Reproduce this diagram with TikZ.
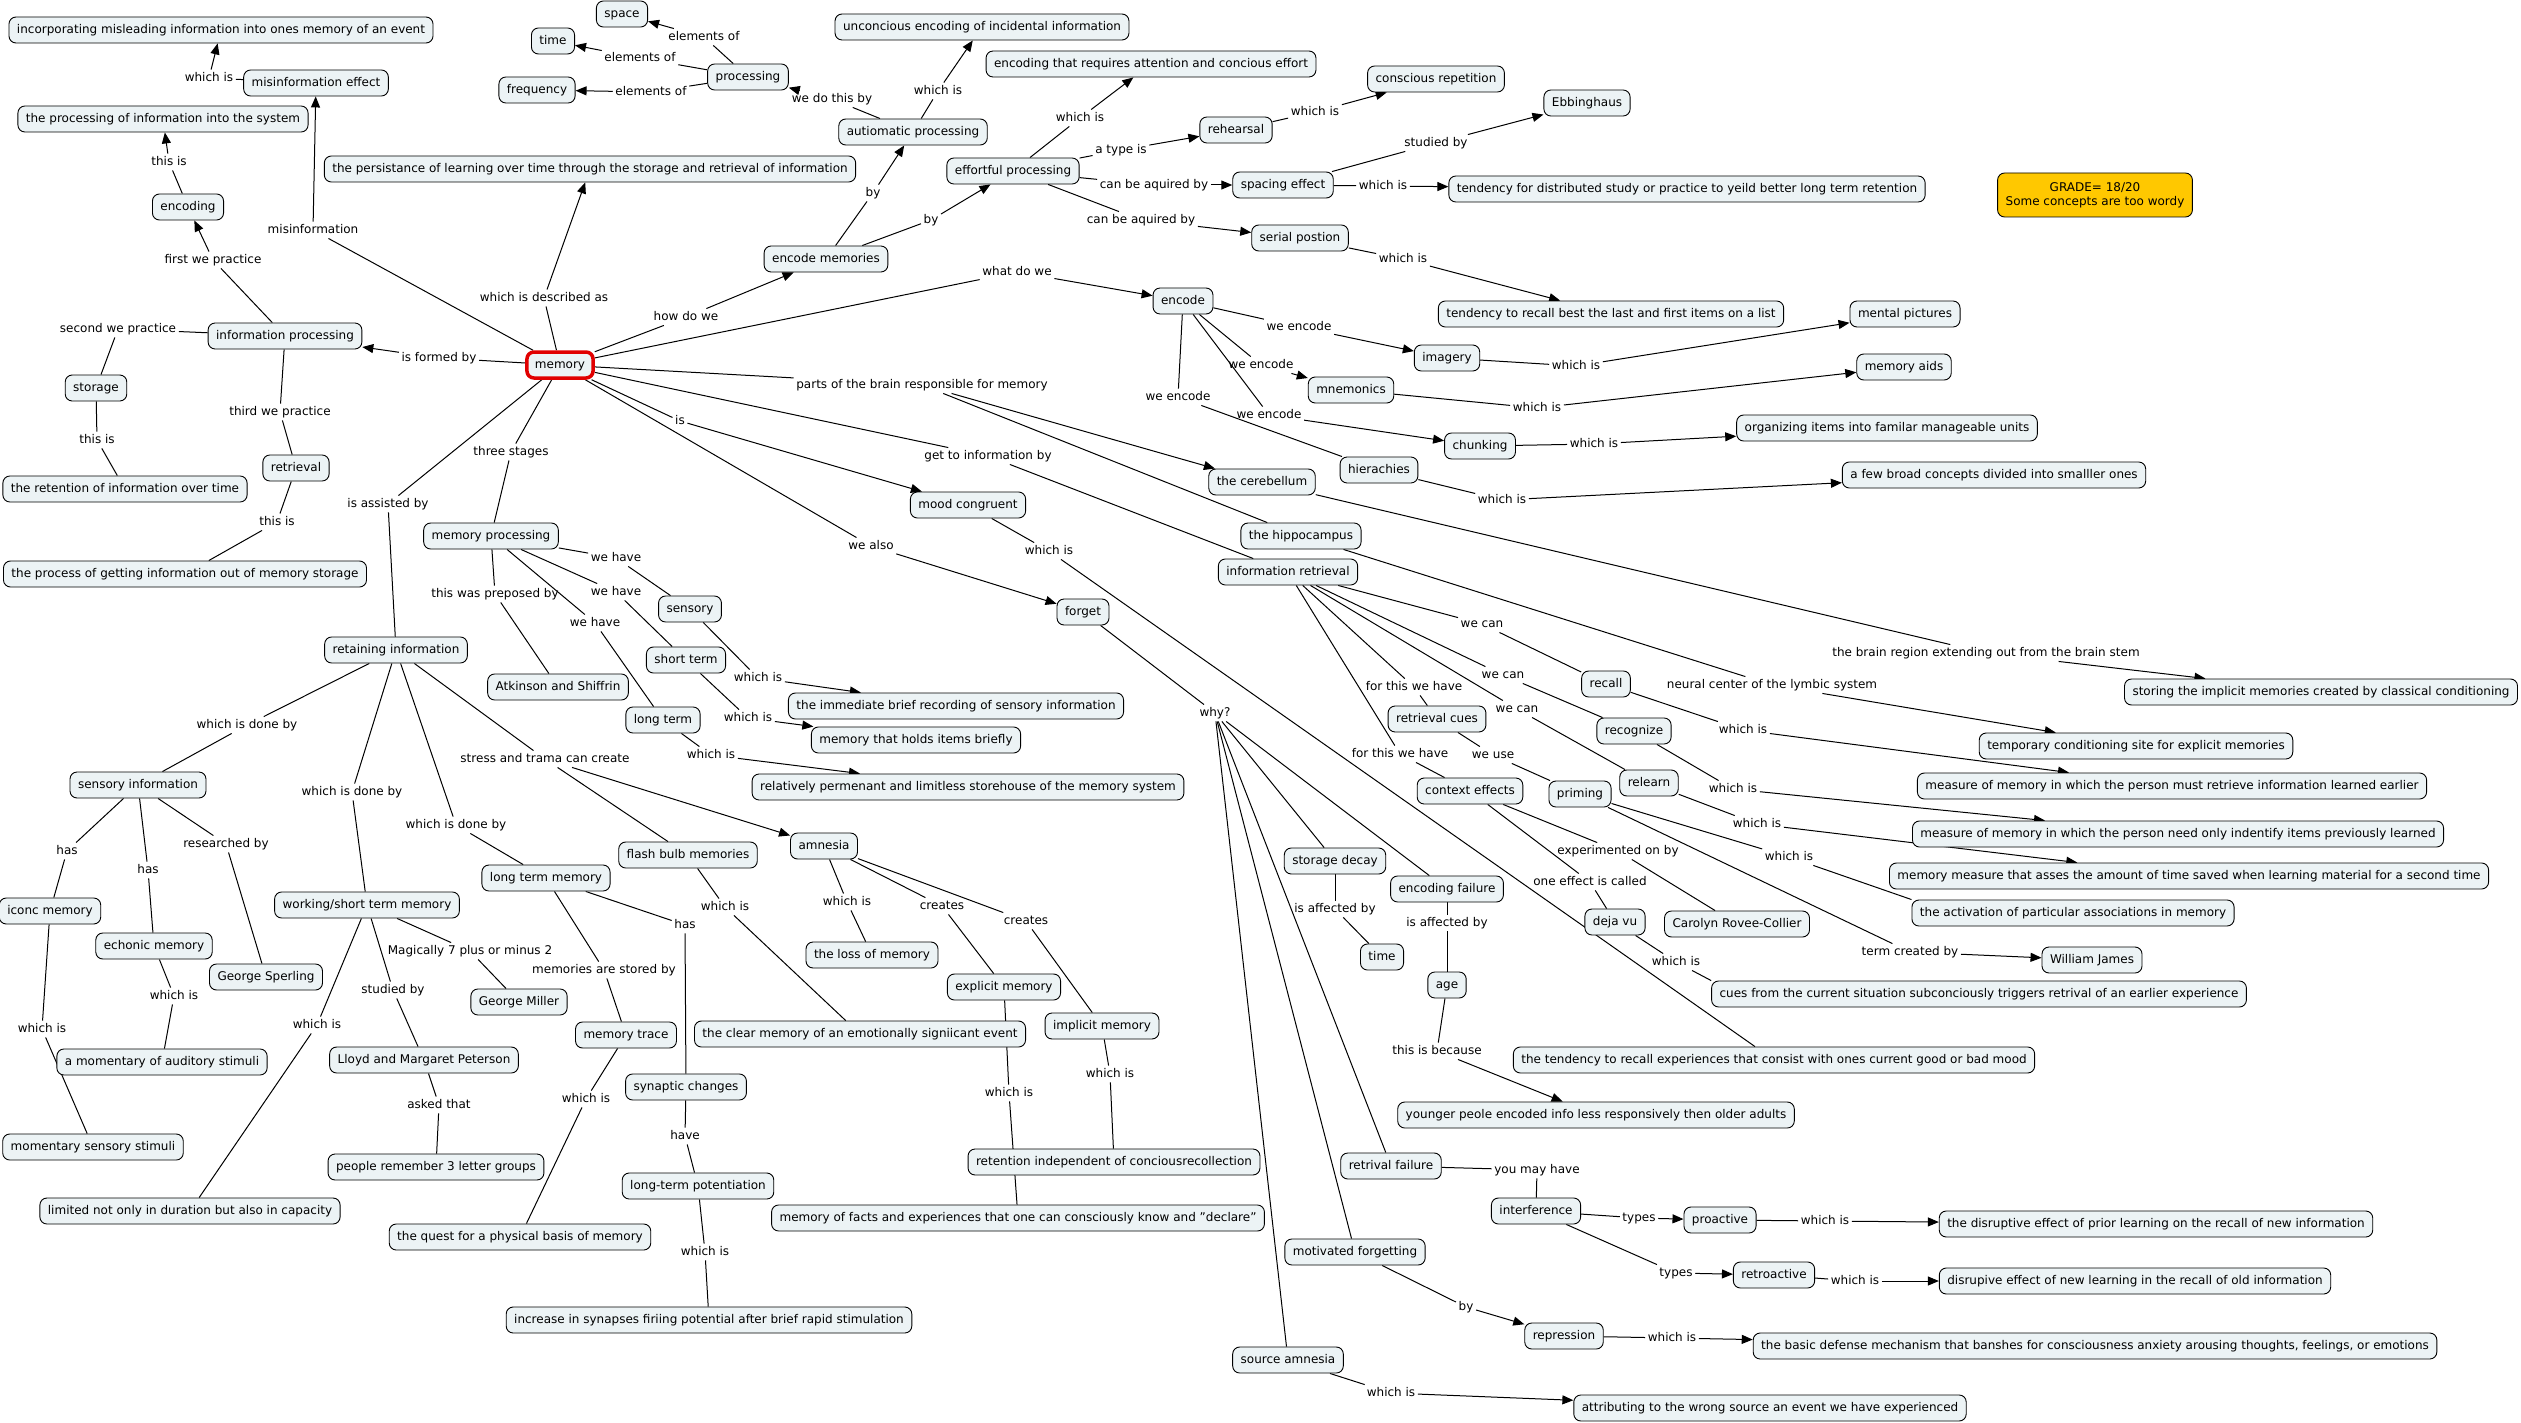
\documentclass[tikz,border=0pt]{standalone}
\usepackage{fontspec}
\setmainfont{DejaVu Sans}
\usetikzlibrary{arrows.meta, backgrounds}
\definecolor{conceptfill}{RGB}{236,243,245}
\definecolor{memred}{RGB}{225,0,0}
\definecolor{gradefill}{RGB}{255,200,0}

\begin{document}
\begin{tikzpicture}[x=1pt, y=-1pt,
  concept/.style={rectangle, draw, rounded corners=7pt, fill=conceptfill, line width=0.9pt, minimum height=26pt, inner xsep=8pt, inner ysep=3pt, text height=9pt, text depth=2.5pt, font=\fontsize{12}{14}\selectfont},
  link/.style={inner sep=2.5pt, text height=9pt, text depth=2.5pt, font=\fontsize{12}{14}\selectfont},
  line/.style={line width=1pt},
  arrow/.style={-{Triangle[length=11pt,width=9pt]}, line width=1pt}
]
  \useasboundingbox (0,0) rectangle (2521,1423);

  % Center
  \node[concept, draw=memred, line width=3.5pt] (memory) at (560,365) {memory};

  % Information processing
  \node[concept] (mislead) at (221,30) {incorporating misleading information into ones memory of an event};
  \node[concept] (misinfo) at (316,83) {misinformation effect};
  \node[concept] (procsys) at (163,119) {the processing of information into the system};
  \node[concept] (encoding) at (188,207) {encoding};
  \node[concept] (persist) at (590,169) {the persistance of learning over time through the storage and retrieval of information};
  \node[concept] (infoproc) at (285,336) {information processing};
  \node[concept] (storage) at (96,388) {storage};
  \node[concept] (retrieval) at (296,468) {retrieval};
  \node[concept] (retention) at (125,489) {the retention of information over time};
  \node[concept] (getout) at (185,574) {the process of getting information out of memory storage};

  % Encoding
  \node[concept] (space) at (622,14) {space};
  \node[concept] (time) at (553,41) {time};
  \node[concept] (freq) at (537,90) {frequency};
  \node[concept] (processing) at (748,77) {processing};
  \node[concept] (unconsc) at (982,27) {unconcious encoding of incidental information};
  \node[concept] (attn) at (1151,64) {encoding that requires attention and concious effort};
  \node[concept] (autoproc) at (913,132) {autiomatic processing};
  \node[concept] (effort) at (1013,171) {effortful processing};
  \node[concept] (rehearsal) at (1236,130) {rehearsal};
  \node[concept] (consrep) at (1436,79) {conscious repetition};
  \node[concept] (ebbing) at (1587,103) {Ebbinghaus};
  \node[concept] (spacing) at (1283,185) {spacing effect};
  \node[concept] (distrib) at (1687,189) {tendency for distributed study or practice to yeild better long term retention};
  \node[concept] (serial) at (1300,238) {serial postion};
  \node[concept] (recallbest) at (1611,314) {tendency to recall best the last and first items on a list};
  \node[concept] (encmem) at (826,259) {encode memories};
  \node[concept] (encode) at (1183,301) {encode};
  \node[concept] (imagery) at (1447,358) {imagery};
  \node[concept] (pictures) at (1905,314) {mental pictures};
  \node[concept] (mnemonics) at (1351,390) {mnemonics};
  \node[concept] (aids) at (1904,367) {memory aids};
  \node[concept] (chunking) at (1480,446) {chunking};
  \node[concept] (organize) at (1887,428) {organizing items into familar manageable units};
  \node[concept] (hier) at (1379,470) {hierachies};
  \node[concept] (broad) at (1994,475) {a few broad concepts divided into smalller ones};
  \node[concept, fill=gradefill, align=center, minimum height=44pt, text height=, text depth=] (grade) at (2095,195) {GRADE= 18/20\\Some concepts are too wordy};

  % Brain
  \node[concept] (cerebellum) at (1262,482) {the cerebellum};
  \node[concept] (hippo) at (1301,536) {the hippocampus};
  \node[concept] (implicitcc) at (2321,692) {storing the implicit memories created by classical conditioning};
  \node[concept] (explicitsite) at (2136,746) {temporary conditioning site for explicit memories};

  % Storage
  \node[concept] (mood) at (968,505) {mood congruent};
  \node[concept] (forget) at (1083,612) {forget};
  \node[concept] (memproc) at (491,536) {memory processing};
  \node[concept] (sensory) at (690,609) {sensory};
  \node[concept] (shortterm) at (686,660) {short term};
  \node[concept] (longterm) at (663,720) {long term};
  \node[concept] (atkinson) at (558,687) {Atkinson and Shiffrin};
  \node[concept] (immediate) at (956,706) {the immediate brief recording of sensory information};
  \node[concept] (brief) at (916,740) {memory that holds items briefly};
  \node[concept] (storehouse) at (968,787) {relatively permenant and limitless storehouse of the memory system};
  \node[concept] (retaining) at (396,650) {retaining information};
  \node[concept] (sensinfo) at (138,785) {sensory information};
  \node[concept] (iconic) at (50,911) {iconc memory};
  \node[concept] (echoic) at (154,946) {echonic memory};
  \node[concept] (sperling) at (266,977) {George Sperling};
  \node[concept] (auditory) at (162,1062) {a momentary of auditory stimuli};
  \node[concept] (momentary) at (93,1147) {momentary sensory stimuli};
  \node[concept] (wstm) at (367,905) {working/short term memory};
  \node[concept] (miller) at (519,1002) {George Miller};
  \node[concept] (peterson) at (424,1060) {Lloyd and Margaret Peterson};
  \node[concept] (letters) at (436,1167) {people remember 3 letter groups};
  \node[concept] (limited) at (190,1211) {limited not only in duration but also in capacity};
  \node[concept] (ltm) at (546,878) {long term memory};
  \node[concept] (trace) at (626,1035) {memory trace};
  \node[concept] (quest) at (520,1237) {the quest for a physical basis of memory};
  \node[concept] (synaptic) at (686,1087) {synaptic changes};
  \node[concept] (ltp) at (698,1186) {long-term potentiation};
  \node[concept] (synapses) at (709,1320) {increase in synapses firiing potential after brief rapid stimulation};
  \node[concept] (flashbulb) at (688,855) {flash bulb memories};
  \node[concept] (clearmem) at (860,1034) {the clear memory of an emotionally signiicant event};
  \node[concept] (amnesia) at (824,846) {amnesia};
  \node[concept] (loss) at (872,955) {the loss of memory};
  \node[concept] (explicit) at (1004,987) {explicit memory};
  \node[concept] (implicit) at (1102,1026) {implicit memory};
  \node[concept] (indep) at (1114,1162) {retention independent of conciousrecollection};
  \node[concept] (declare) at (1018,1218) {memory of facts and experiences that one can consciously know and "declare"};

  % Retrieval
  \node[concept] (inforet) at (1288,572) {information retrieval};
  \node[concept] (recall) at (1606,684) {recall};
  \node[concept] (recognize) at (1634,731) {recognize};
  \node[concept] (relearn) at (1649,783) {relearn};
  \node[concept] (cues) at (1437,719) {retrieval cues};
  \node[concept] (context) at (1470,791) {context effects};
  \node[concept] (priming) at (1580,794) {priming};
  \node[concept] (recalldef) at (2172,786) {measure of memory in which the person must retrieve information learned earlier};
  \node[concept] (recogdef) at (2178,834) {measure of memory in which the person need only indentify items previously learned};
  \node[concept] (relearndef) at (2189,876) {memory measure that asses the amount of time saved when learning material for a second time};
  \node[concept] (activation) at (2073,913) {the activation of particular associations in memory};
  \node[concept] (james) at (2092,960) {William James};
  \node[concept] (carolyn) at (1737,924) {Carolyn Rovee-Collier};
  \node[concept] (dejavu) at (1615,922) {deja vu};
  \node[concept] (triggers) at (1979,994) {cues from the current situation subconciously triggers retrival of an earlier experience};

  % Forgetting
  \node[concept] (decay) at (1335,861) {storage decay};
  \node[concept] (encfail) at (1447,889) {encoding failure};
  \node[concept] (timeb) at (1382,957) {time};
  \node[concept] (age) at (1447,985) {age};
  \node[concept] (younger) at (1596,1115) {younger peole encoded info less responsively then older adults};
  \node[concept] (mooddef) at (1774,1060) {the tendency to recall experiences that consist with ones current good or bad mood};
  \node[concept] (retfail) at (1391,1166) {retrival failure};
  \node[concept] (interf) at (1536,1211) {interference};
  \node[concept] (proactive) at (1720,1220) {proactive};
  \node[concept] (retroactive) at (1774,1275) {retroactive};
  \node[concept] (priorlearn) at (2156,1224) {the disruptive effect of prior learning on the recall of new information};
  \node[concept] (newlearn) at (2135,1281) {disrupive effect of new learning in the recall of old information};
  \node[concept] (motivated) at (1355,1252) {motivated forgetting};
  \node[concept] (repression) at (1564,1336) {repression};
  \node[concept] (defense) at (2095,1346) {the basic defense mechanism that banshes for consciousness anxiety arousing thoughts, feelings, or emotions};
  \node[concept] (source) at (1288,1360) {source amnesia};
  \node[concept] (wrongsrc) at (1770,1408) {attributing to the wrong source an event we have experienced};

  % Linking phrases
  \node[link] (lmiswhich) at (209,78) {which is};
  \node[link] (lmisinfo) at (313,230) {misinformation};
  \node[link] (lencthis) at (169,162) {this is};
  \node[link] (lfirst) at (213,260) {first we practice};
  \node[link] (ldescribed) at (544,298) {which is described as};
  \node[link] (lsecond) at (118,329) {second we practice};
  \node[link] (lformed) at (439,358) {is formed by};
  \node[link] (lstorthis) at (97,440) {this is};
  \node[link] (lthird) at (280,412) {third we practice};
  \node[link] (lretrthis) at (277,522) {this is};
  \node[link] (lthree) at (511,452) {three stages};
  \node[link] (lassisted) at (388,504) {is assisted by};
  \node[link] (lelemA) at (704,37) {elements of};
  \node[link] (lelemB) at (640,58) {elements of};
  \node[link] (lelemC) at (651,92) {elements of};
  \node[link] (ldothis) at (832,99) {we do this by};
  \node[link] (lautowhich) at (938,91) {which is};
  \node[link] (leffwhich) at (1080,118) {which is};
  \node[link] (ltype) at (1121,150) {a type is};
  \node[link] (laquiredA) at (1154,185) {can be aquired by};
  \node[link] (laquiredB) at (1141,220) {can be aquired by};
  \node[link] (lbyA) at (873,193) {by};
  \node[link] (lbyB) at (931,220) {by};
  \node[link] (lhowdo) at (686,317) {how do we};
  \node[link] (lwhatdo) at (1017,272) {what do we};
  \node[link] (lrehwhich) at (1315,112) {which is};
  \node[link] (lstudied) at (1436,143) {studied by};
  \node[link] (lspacwhich) at (1383,186) {which is};
  \node[link] (lserwhich) at (1403,259) {which is};
  \node[link] (lencA) at (1299,327) {we encode};
  \node[link] (lencB) at (1261,365) {we encode};
  \node[link] (lencC) at (1269,415) {we encode};
  \node[link] (lencD) at (1178,397) {we encode};
  \node[link] (limgwhich) at (1576,366) {which is};
  \node[link] (lmnemwhich) at (1537,408) {which is};
  \node[link] (lchunkwhich) at (1594,444) {which is};
  \node[link] (lhierwhich) at (1502,500) {which is};
  \node[link] (lparts) at (922,385) {parts of the brain responsible for memory};
  \node[link] (lneural) at (1772,685) {neural center of the lymbic system};
  \node[link] (lregion) at (1986,653) {the brain region extending out from the brain stem};
  \node[link] (lis) at (680,421) {is};
  \node[link] (lgetto) at (988,456) {get to information by};
  \node[link] (lwealso) at (871,546) {we also};
  \node[link] (lmoodwhich) at (1049,551) {which is};
  \node[link] (lhaveA) at (616,558) {we have};
  \node[link] (lhaveB) at (616,592) {we have};
  \node[link] (lhaveC) at (595,623) {we have};
  \node[link] (lpreposed) at (495,594) {this was preposed by};
  \node[link] (lsenswhich) at (758,678) {which is};
  \node[link] (lshortwhich) at (748,718) {which is};
  \node[link] (llongwhich) at (711,755) {which is};
  \node[link] (ldoneA) at (247,725) {which is done by};
  \node[link] (ldoneB) at (352,792) {which is done by};
  \node[link] (ldoneC) at (456,825) {which is done by};
  \node[link] (lstress) at (545,759) {stress and trama can create};
  \node[link] (lhasA) at (67,851) {has};
  \node[link] (lhasB) at (148,870) {has};
  \node[link] (lresearch) at (226,844) {researched by};
  \node[link] (liconwhich) at (42,1029) {which is};
  \node[link] (lechowhich) at (174,996) {which is};
  \node[link] (lwstmwhich) at (317,1025) {which is};
  \node[link] (lmagic) at (470,951) {Magically 7 plus or minus 2};
  \node[link] (lstudiedB) at (393,990) {studied by};
  \node[link] (lasked) at (439,1105) {asked that};
  \node[link] (lstored) at (604,970) {memories are stored by};
  \node[link] (lhasC) at (685,925) {has};
  \node[link] (ltracewhich) at (586,1099) {which is};
  \node[link] (lhave) at (685,1136) {have};
  \node[link] (lltpwhich) at (705,1252) {which is};
  \node[link] (lflashwhich) at (725,907) {which is};
  \node[link] (lamnwhich) at (847,902) {which is};
  \node[link] (lcreatesA) at (942,906) {creates};
  \node[link] (lcreatesB) at (1026,921) {creates};
  \node[link] (lexplwhich) at (1009,1093) {which is};
  \node[link] (limplwhich) at (1110,1074) {which is};
  \node[link] (lwhy) at (1215,713) {why?};
  \node[link] (lcanA) at (1482,624) {we can};
  \node[link] (lcanB) at (1503,675) {we can};
  \node[link] (lcanC) at (1517,709) {we can};
  \node[link] (lforA) at (1414,687) {for this we have};
  \node[link] (lforB) at (1400,754) {for this we have};
  \node[link] (luse) at (1493,755) {we use};
  \node[link] (lrecallwhich) at (1743,730) {which is};
  \node[link] (lrecogwhich) at (1733,789) {which is};
  \node[link] (lrelearnwhich) at (1757,824) {which is};
  \node[link] (lprimwhich) at (1789,857) {which is};
  \node[link] (lexperimented) at (1618,851) {experimented on by};
  \node[link] (lcalled) at (1590,882) {one effect is called};
  \node[link] (ltermby) at (1910,952) {term created by};
  \node[link] (ldejawhich) at (1676,962) {which is};
  \node[link] (laffA) at (1335,909) {is affected by};
  \node[link] (laffB) at (1447,923) {is affected by};
  \node[link] (lbecause) at (1437,1051) {this is because};
  \node[link] (lmayhave) at (1537,1170) {you may have};
  \node[link] (ltypesA) at (1639,1218) {types};
  \node[link] (ltypesB) at (1676,1273) {types};
  \node[link] (lprowhich) at (1825,1221) {which is};
  \node[link] (lretrowhich) at (1855,1281) {which is};
  \node[link] (lbyC) at (1466,1307) {by};
  \node[link] (lrepwhich) at (1672,1338) {which is};
  \node[link] (lsrcwhich) at (1391,1393) {which is};

  \begin{scope}[on background layer]
    % Information processing
    \draw[line] (misinfo) -- (lmiswhich); \draw[arrow] (lmiswhich) -- (mislead);
    \draw[line] (memory) -- (lmisinfo); \draw[arrow] (lmisinfo) -- (misinfo);
    \draw[line] (encoding) -- (lencthis); \draw[arrow] (lencthis) -- (procsys);
    \draw[line] (infoproc) -- (lfirst); \draw[arrow] (lfirst) -- (encoding);
    \draw[line] (memory) -- (ldescribed); \draw[arrow] (ldescribed) -- (persist);
    \draw[line] (infoproc) -- (lsecond); \draw[line] (lsecond) -- (storage);
    \draw[line] (memory) -- (lformed); \draw[arrow] (lformed) -- (infoproc);
    \draw[line] (storage) -- (lstorthis); \draw[line] (lstorthis) -- (retention);
    \draw[line] (infoproc) -- (lthird); \draw[line] (lthird) -- (retrieval);
    \draw[line] (retrieval) -- (lretrthis); \draw[line] (lretrthis) -- (getout);
    \draw[line] (memory) -- (lthree); \draw[line] (lthree) -- (memproc);
    \draw[line] (memory) -- (lassisted); \draw[line] (lassisted) -- (retaining);

    % Encoding
    \draw[line] (processing) -- (lelemA); \draw[arrow] (lelemA) -- (space);
    \draw[line] (processing) -- (lelemB); \draw[arrow] (lelemB) -- (time);
    \draw[line] (processing) -- (lelemC); \draw[arrow] (lelemC) -- (freq);
    \draw[line] (autoproc) -- (ldothis); \draw[arrow] (ldothis) -- (processing);
    \draw[line] (autoproc) -- (lautowhich); \draw[arrow] (lautowhich) -- (unconsc);
    \draw[line] (encmem) -- (lbyA); \draw[arrow] (lbyA) -- (autoproc);
    \draw[line] (encmem) -- (lbyB); \draw[arrow] (lbyB) -- (effort);
    \draw[line] (memory) -- (lhowdo); \draw[arrow] (lhowdo) -- (encmem);
    \draw[line] (effort) -- (leffwhich); \draw[arrow] (leffwhich) -- (attn);
    \draw[line] (effort) -- (ltype); \draw[arrow] (ltype) -- (rehearsal);
    \draw[line] (effort) -- (laquiredA); \draw[arrow] (laquiredA) -- (spacing);
    \draw[line] (effort) -- (laquiredB); \draw[arrow] (laquiredB) -- (serial);
    \draw[line] (rehearsal) -- (lrehwhich); \draw[arrow] (lrehwhich) -- (consrep);
    \draw[line] (spacing) -- (lstudied); \draw[arrow] (lstudied) -- (ebbing);
    \draw[line] (spacing) -- (lspacwhich); \draw[arrow] (lspacwhich) -- (distrib);
    \draw[line] (serial) -- (lserwhich); \draw[arrow] (lserwhich) -- (recallbest);
    \draw[line] (memory) -- (lwhatdo); \draw[arrow] (lwhatdo) -- (encode);
    \draw[line] (encode) -- (lencA); \draw[arrow] (lencA) -- (imagery);
    \draw[line] (encode) -- (lencB); \draw[arrow] (lencB) -- (mnemonics);
    \draw[line] (encode) -- (lencC); \draw[arrow] (lencC) -- (chunking);
    \draw[line] (encode) -- (lencD); \draw[line] (lencD) -- (hier);
    \draw[line] (imagery) -- (limgwhich); \draw[arrow] (limgwhich) -- (pictures);
    \draw[line] (mnemonics) -- (lmnemwhich); \draw[arrow] (lmnemwhich) -- (aids);
    \draw[line] (chunking) -- (lchunkwhich); \draw[arrow] (lchunkwhich) -- (organize);
    \draw[line] (hier) -- (lhierwhich); \draw[arrow] (lhierwhich) -- (broad);

    % Brain
    \draw[line] (memory) -- (lparts); \draw[arrow] (lparts) -- (cerebellum);
    \draw[line] (lparts) -- (hippo);
    \draw[line] (cerebellum) -- (lregion); \draw[arrow] (lregion) -- (implicitcc);
    \draw[line] (hippo) -- (lneural); \draw[arrow] (lneural) -- (explicitsite);

    % Storage
    \draw[line] (memory) -- (lis); \draw[arrow] (lis) -- (mood);
    \draw[line] (mood) -- (lmoodwhich); \draw[line] (lmoodwhich) -- (mooddef);
    \draw[line] (memproc) -- (lhaveA); \draw[line] (lhaveA) -- (sensory);
    \draw[line] (memproc) -- (lhaveB); \draw[line] (lhaveB) -- (shortterm);
    \draw[line] (memproc) -- (lhaveC); \draw[line] (lhaveC) -- (longterm);
    \draw[line] (memproc) -- (lpreposed); \draw[line] (lpreposed) -- (atkinson);
    \draw[line] (sensory) -- (lsenswhich); \draw[arrow] (lsenswhich) -- (immediate);
    \draw[line] (shortterm) -- (lshortwhich); \draw[arrow] (lshortwhich) -- (brief);
    \draw[line] (longterm) -- (llongwhich); \draw[arrow] (llongwhich) -- (storehouse);
    \draw[line] (retaining) -- (ldoneA); \draw[line] (ldoneA) -- (sensinfo);
    \draw[line] (retaining) -- (ldoneB); \draw[line] (ldoneB) -- (wstm);
    \draw[line] (retaining) -- (ldoneC); \draw[line] (ldoneC) -- (ltm);
    \draw[line] (retaining) -- (lstress); \draw[line] (lstress) -- (flashbulb);
    \draw[arrow] (lstress) -- (amnesia);
    \draw[line] (sensinfo) -- (lhasA); \draw[line] (lhasA) -- (iconic);
    \draw[line] (sensinfo) -- (lhasB); \draw[line] (lhasB) -- (echoic);
    \draw[line] (sensinfo) -- (lresearch); \draw[line] (lresearch) -- (sperling);
    \draw[line] (iconic) -- (liconwhich); \draw[line] (liconwhich) -- (momentary);
    \draw[line] (echoic) -- (lechowhich); \draw[line] (lechowhich) -- (auditory);
    \draw[line] (wstm) -- (lwstmwhich); \draw[line] (lwstmwhich) -- (limited);
    \draw[line] (wstm) -- (lmagic); \draw[line] (lmagic) -- (miller);
    \draw[line] (wstm) -- (lstudiedB); \draw[line] (lstudiedB) -- (peterson);
    \draw[line] (peterson) -- (lasked); \draw[line] (lasked) -- (letters);
    \draw[line] (ltm) -- (lstored); \draw[line] (lstored) -- (trace);
    \draw[line] (ltm) -- (lhasC); \draw[line] (lhasC) -- (synaptic);
    \draw[line] (trace) -- (ltracewhich); \draw[line] (ltracewhich) -- (quest);
    \draw[line] (synaptic) -- (lhave); \draw[line] (lhave) -- (ltp);
    \draw[line] (ltp) -- (lltpwhich); \draw[line] (lltpwhich) -- (synapses);
    \draw[line] (flashbulb) -- (lflashwhich); \draw[line] (lflashwhich) -- (clearmem);
    \draw[line] (amnesia) -- (lamnwhich); \draw[line] (lamnwhich) -- (loss);
    \draw[line] (amnesia) -- (lcreatesA); \draw[line] (lcreatesA) -- (explicit);
    \draw[line] (amnesia) -- (lcreatesB); \draw[line] (lcreatesB) -- (implicit);
    \draw[line] (explicit) -- (lexplwhich); \draw[line] (lexplwhich) -- (declare);
    \draw[line] (implicit) -- (limplwhich); \draw[line] (limplwhich) -- (indep);

    % Retrieval
    \draw[line] (memory) -- (lgetto); \draw[line] (lgetto) -- (inforet);
    \draw[line] (inforet) -- (lcanA); \draw[line] (lcanA) -- (recall);
    \draw[line] (inforet) -- (lcanB); \draw[line] (lcanB) -- (recognize);
    \draw[line] (inforet) -- (lcanC); \draw[line] (lcanC) -- (relearn);
    \draw[line] (inforet) -- (lforA); \draw[line] (lforA) -- (cues);
    \draw[line] (inforet) -- (lforB); \draw[line] (lforB) -- (context);
    \draw[line] (cues) -- (luse); \draw[line] (luse) -- (priming);
    \draw[line] (recall) -- (lrecallwhich); \draw[arrow] (lrecallwhich) -- (recalldef);
    \draw[line] (recognize) -- (lrecogwhich); \draw[arrow] (lrecogwhich) -- (recogdef);
    \draw[line] (relearn) -- (lrelearnwhich); \draw[arrow] (lrelearnwhich) -- (relearndef);
    \draw[line] (priming) -- (lprimwhich); \draw[line] (lprimwhich) -- (activation.north west);
    \draw[line] (priming) -- (ltermby); \draw[arrow] (ltermby) -- (james);
    \draw[line] (context) -- (lexperimented); \draw[line] (lexperimented) -- (carolyn);
    \draw[line] (context) -- (lcalled); \draw[line] (lcalled) -- (dejavu);
    \draw[line] (dejavu) -- (ldejawhich); \draw[line] (ldejawhich) -- (triggers.north west);

    % Forgetting
    \draw[line] (memory) -- (lwealso); \draw[arrow] (lwealso) -- (forget);
    \draw[line] (forget) -- (lwhy);
    \draw[line] (lwhy) -- (decay);
    \draw[line] (lwhy) -- (encfail);
    \draw[line] (lwhy) -- (retfail);
    \draw[line] (lwhy) -- (motivated);
    \draw[line] (lwhy) -- (source);
    \draw[line] (decay) -- (laffA); \draw[line] (laffA) -- (timeb);
    \draw[line] (encfail) -- (laffB); \draw[line] (laffB) -- (age);
    \draw[line] (age) -- (lbecause); \draw[arrow] (lbecause) -- (younger);
    \draw[line] (retfail) -- (lmayhave); \draw[line] (lmayhave) -- (interf);
    \draw[line] (interf) -- (ltypesA); \draw[arrow] (ltypesA) -- (proactive);
    \draw[line] (interf) -- (ltypesB); \draw[arrow] (ltypesB) -- (retroactive);
    \draw[line] (proactive) -- (lprowhich); \draw[arrow] (lprowhich) -- (priorlearn);
    \draw[line] (retroactive) -- (lretrowhich); \draw[arrow] (lretrowhich) -- (newlearn);
    \draw[line] (motivated) -- (lbyC); \draw[arrow] (lbyC) -- (repression);
    \draw[line] (repression) -- (lrepwhich); \draw[arrow] (lrepwhich) -- (defense);
    \draw[line] (source) -- (lsrcwhich); \draw[arrow] (lsrcwhich) -- (wrongsrc);
  \end{scope}
\end{tikzpicture}
\end{document}
